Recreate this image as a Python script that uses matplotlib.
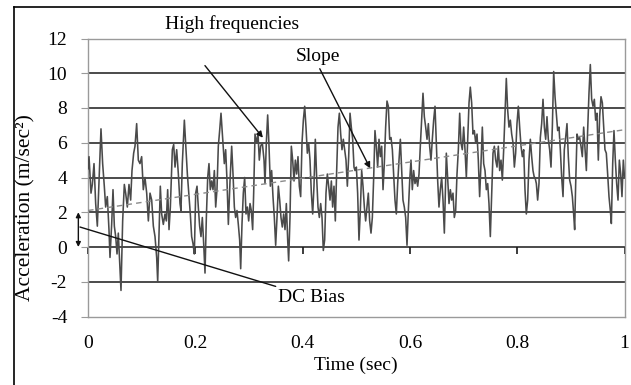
import numpy as np
import matplotlib
matplotlib.use("Agg")
import matplotlib.pyplot as plt
from matplotlib.lines import Line2D

plt.rcParams['font.family'] = ['Liberation Serif', 'DejaVu Serif']
plt.rcParams['font.size'] = 14
plt.rcParams['axes.unicode_minus'] = False

# ---- data (time in s, acceleration in m/s^2) ----
t_seg1 = [0.000, 0.0019, 0.0056, 0.0081, 0.0112, 0.0143, 0.0174, 0.0205, 0.0242, 0.0273, 0.0304, 0.0329,
          0.0360, 0.0391, 0.0410, 0.0441, 0.0466, 0.0491, 0.0516, 0.0541, 0.0565, 0.0590, 0.0615, 0.0646,
          0.0677, 0.0702, 0.0733, 0.0764, 0.0795, 0.0820, 0.0851, 0.0876, 0.0907, 0.0938, 0.0969, 0.1000,
          0.1031, 0.1062, 0.1094, 0.1125, 0.1156, 0.1187, 0.1218, 0.1249, 0.1280, 0.1299, 0.1323, 0.1348,
          0.1373, 0.1404, 0.1435, 0.1460, 0.1485, 0.1510, 0.1535, 0.1572, 0.1597]
a_seg1 = [4.5, 5.2, 3.1, 3.6, 4.8, 2.5, 1.2, 3.8, 6.8, 4.8, 3.5, 2.3,
          2.9, 1.0, -0.6, 1.3, 3.3, 1.2, 0.6, -0.4, 0.8, -0.8, -2.5, 1.5,
          3.6, 3.1, 2.3, 3.6, 2.7, 4.4, 5.4, 5.8, 7.1, 5.0, 4.8, 5.2,
          3.3, 4.0, 3.1, 1.5, 3.1, 2.7, 1.2, 0.6, -0.6, -2.0, 0.6, 3.5,
          1.9, 1.3, 1.9, 1.5, 3.3, 1.0, 2.3, 5.6, 5.9]

t_seg2 = [0.1622, 0.1653, 0.1684, 0.1715, 0.1733, 0.1758, 0.1796, 0.1827, 0.1852, 0.1883, 0.1907, 0.1932,
          0.1957, 0.1982, 0.2007, 0.2032, 0.2056, 0.2081, 0.2106, 0.2131, 0.2156, 0.2181, 0.2206, 0.2231,
          0.2255, 0.2280, 0.2305, 0.2330, 0.2355, 0.2380, 0.2404, 0.2429, 0.2454, 0.2479, 0.2510, 0.2541,
          0.2566, 0.2591, 0.2616, 0.2647, 0.2678, 0.2703, 0.2728, 0.2752, 0.2777, 0.2802, 0.2827, 0.2846,
          0.2870, 0.2895, 0.2920, 0.2945, 0.2970, 0.2995, 0.3020, 0.3044, 0.3069, 0.3088, 0.3113, 0.3144,
          0.3169, 0.3193, 0.3218, 0.3249, 0.3281]
a_seg2 = [4.6, 5.6, 4.2, 2.5, 2.1, 4.8, 7.3, 5.6, 4.2, 2.9, 1.9, 0.6,
          0.2, -0.4, 3.1, 3.5, 2.3, 1.2, 0.6, 1.7, 0.2, -1.5, 1.7, 4.0,
          4.8, 3.3, 3.8, 3.3, 4.4, 2.3, 3.3, 5.8, 6.7, 7.7, 6.2, 4.8,
          5.6, 3.8, 1.3, 3.8, 5.8, 4.2, 2.3, 1.7, 2.1, 1.3, 0.4, -1.25,
          1.3, 3.1, 4.0, 1.9, 2.3, 1.5, 2.5, 2.1, 1.0, 3.1, 6.5, 6.0,
          6.5, 5.0, 5.8, 6.0, 5.0]

t_seg3 = [0.3299, 0.3324, 0.3349, 0.3374, 0.3399, 0.3423, 0.3448, 0.3473, 0.3498, 0.3523, 0.3548, 0.3573,
          0.3597, 0.3622, 0.3647, 0.3672, 0.3697, 0.3722, 0.3740, 0.3765, 0.3790, 0.3815, 0.3840, 0.3865,
          0.3889, 0.3914, 0.3939, 0.3964, 0.3989, 0.4014, 0.4039, 0.4063, 0.4088, 0.4113, 0.4138, 0.4163,
          0.4188, 0.4212, 0.4237, 0.4262, 0.4287, 0.4312, 0.4337, 0.4362, 0.4386, 0.4411, 0.4436, 0.4461,
          0.4486, 0.4511, 0.4536, 0.4560, 0.4585, 0.4610, 0.4635, 0.4660, 0.4685, 0.4710, 0.4734, 0.4759,
          0.4784, 0.4809, 0.4834, 0.4859, 0.4884, 0.4908, 0.4933, 0.4958]
a_seg3 = [3.65, 6.0, 7.6, 5.8, 3.5, 4.4, 2.9, 1.7, 0.1, 1.7, 3.5, 2.7,
          1.7, 1.15, 1.9, 1.0, 2.5, 0.4, -0.8, 1.7, 5.8, 5.0, 3.8, 5.0,
          4.2, 5.2, 3.5, 2.9, 6.0, 7.3, 8.1, 6.9, 5.4, 6.0, 5.0, 3.1,
          1.9, 3.5, 6.2, 4.0, 2.3, 1.7, 2.5, 1.7, -0.2, 0.4, 3.1, 4.2,
          3.5, 2.7, 3.8, 2.3, 3.5, 1.5, 4.4, 6.9, 7.7, 6.5, 5.6, 6.2,
          5.6, 5.0, 3.5, 5.2, 7.7, 6.9, 6.2, 4.6]

t_seg4 = [0.4977, 0.5002, 0.5026, 0.5051, 0.5076, 0.5101, 0.5126, 0.5151, 0.5175, 0.5200, 0.5225, 0.5250,
          0.5275, 0.5300, 0.5325, 0.5349, 0.5374, 0.5399, 0.5424, 0.5449, 0.5474, 0.5499, 0.5523, 0.5548,
          0.5573, 0.5598, 0.5623, 0.5648, 0.5673, 0.5697, 0.5722, 0.5747, 0.5772, 0.5797, 0.5822, 0.5847,
          0.5871, 0.5896, 0.5921, 0.5946, 0.5971, 0.5996, 0.6020, 0.6045, 0.6070, 0.6095, 0.6120, 0.6145,
          0.6170, 0.6194, 0.6219, 0.6244, 0.6269, 0.6294, 0.6319, 0.6344, 0.6368, 0.6393, 0.6418, 0.6443,
          0.6468, 0.6493, 0.6518, 0.6542, 0.6567, 0.6592, 0.6617, 0.6642, 0.6660, 0.6679]
a_seg4 = [4.4, 4.6, 3.1, 0.4, 2.1, 4.4, 3.5, 2.3, 1.5, 2.3, 3.1, 1.5,
          0.8, 1.7, 4.0, 6.7, 5.8, 4.6, 6.2, 5.2, 5.8, 3.3, 4.8, 6.9,
          8.4, 8.1, 6.2, 6.3, 5.6, 4.2, 2.7, 1.9, 3.65, 5.0, 6.2, 4.4,
          2.7, 2.3, 1.7, 0.1, 2.1, 3.8, 5.0, 3.3, 4.4, 3.65, 4.0, 3.5,
          4.2, 5.8, 7.3, 8.85, 7.5, 6.9, 6.2, 7.1, 5.8, 5.0, 6.2, 7.3,
          8.1, 6.0, 3.8, 2.3, 3.3, 4.0, 2.7, 0.8, 3.1, 5.4]

t_seg5 = [0.6704, 0.6729, 0.6754, 0.6779, 0.6803, 0.6828, 0.6853, 0.6878, 0.6903, 0.6928, 0.6952, 0.6977,
          0.7002, 0.7027, 0.7052, 0.7077, 0.7102, 0.7126, 0.7151, 0.7176, 0.7201, 0.7226, 0.7251, 0.7275,
          0.7300, 0.7325, 0.7350, 0.7375, 0.7400, 0.7425, 0.7450, 0.7474, 0.7499, 0.7524, 0.7549, 0.7574,
          0.7599, 0.7624, 0.7648, 0.7673, 0.7698, 0.7723, 0.7748, 0.7773, 0.7797, 0.7822, 0.7847, 0.7872,
          0.7897, 0.7922, 0.7947, 0.7971, 0.7996, 0.8021, 0.8046, 0.8071, 0.8096, 0.8121, 0.8145, 0.8170,
          0.8195, 0.8220, 0.8245, 0.8270, 0.8294, 0.8319]
a_seg5 = [4.0, 2.5, 3.3, 2.7, 3.1, 1.7, 2.1, 4.2, 5.6, 7.7, 6.0, 5.6,
          6.9, 5.6, 4.0, 6.2, 8.3, 9.2, 8.3, 6.5, 6.7, 6.0, 6.5, 5.0,
          2.9, 4.8, 6.9, 4.8, 4.4, 3.3, 3.65, 2.5, 0.6, 3.1, 5.4, 5.8,
          5.0, 4.6, 5.8, 4.4, 5.0, 3.85, 5.6, 7.7, 9.7, 7.9, 6.9, 7.3,
          6.5, 6.0, 4.6, 5.4, 7.1, 8.1, 6.9, 5.8, 5.2, 5.6, 3.3, 1.9,
          2.7, 5.0, 6.2, 5.2, 4.4, 4.0]

t_seg6 = [0.8332, 0.8357, 0.8381, 0.8406, 0.8431, 0.8456, 0.8481, 0.8506, 0.8531, 0.8555, 0.8580, 0.8605,
          0.8630, 0.8655, 0.8680, 0.8705, 0.8729, 0.8754, 0.8779, 0.8804, 0.8829, 0.8854, 0.8878, 0.8903,
          0.8928, 0.8953, 0.8978, 0.9003, 0.9028, 0.9052, 0.9071, 0.9090, 0.9115, 0.9139, 0.9164, 0.9189,
          0.9214, 0.9239, 0.9264, 0.9289, 0.9313, 0.9338, 0.9363, 0.9388, 0.9413, 0.9438, 0.9462, 0.9487,
          0.9512, 0.9537, 0.9562, 0.9587, 0.9612, 0.9636, 0.9661, 0.9686, 0.9711, 0.9736, 0.9755, 0.9780,
          0.9804, 0.9829, 0.9854, 0.9879, 0.9904, 0.9929, 0.9953, 0.9978, 1.0]
a_seg6 = [4.0, 3.65, 2.7, 3.65, 6.3, 7.1, 8.5, 6.9, 6.2, 7.5, 6.2, 5.6,
          4.6, 6.9, 10.1, 8.65, 7.7, 6.7, 6.9, 5.6, 4.0, 2.9, 5.6, 6.3,
          7.1, 5.2, 3.85, 3.5, 2.9, 1.9, 1.0, 3.65, 6.5, 6.2, 6.3, 5.8,
          5.2, 6.9, 5.6, 4.4, 6.7, 8.85, 10.5, 8.5, 8.1, 8.5, 7.3, 7.7,
          5.0, 7.5, 8.65, 8.3, 6.9, 5.6, 5.4, 4.2, 2.9, 2.1, 1.35, 4.8,
          6.7, 5.0, 3.65, 2.7, 5.0, 4.2, 2.9, 5.0, 4.0]

trend_time = [0.0, 1.0]
trend_accel = [2.1, 6.75]

x_ticks = [0, 0.2, 0.4, 0.6, 0.8, 1]
x_ticklabels = ['0', '0.2', '0.4', '0.6', '0.8', '1']
y_ticks = [-4, -2, 0, 2, 4, 6, 8, 10, 12]

time_s = np.concatenate([t_seg1, t_seg2, t_seg3, t_seg4, t_seg5, t_seg6])
accel = np.concatenate([a_seg1, a_seg2, a_seg3, a_seg4, a_seg5, a_seg6])
assert len(time_s) == len(accel)

# ---- figure ----
W, H = 631, 385
fig = plt.figure(figsize=(W / 100, H / 100), dpi=100)
ax = fig.add_axes([88 / W, 1 - 316.5 / H, (624.5 - 88) / W, (316.5 - 38.5) / H])

frame_gray = '#9a9a9a'
ax.set_xlim(0, 1)
ax.set_ylim(-4, 12)
ax.set_axisbelow(True)

ax.set_yticks(y_ticks)
ax.grid(axis='y', color='#1a1a1a', lw=1.1)
glines = ax.get_ygridlines()
glines[0].set_visible(False)
glines[-1].set_visible(False)

for s in ax.spines.values():
    s.set_color(frame_gray)
    s.set_linewidth(1.0)

ax.set_xticks(x_ticks)
ax.set_xticklabels(x_ticklabels)
ax.tick_params(axis='x', length=0, pad=13)
ax.tick_params(axis='y', direction='out', length=5, color=frame_gray, pad=10)

# axis crossing at y = 0 with tick marks
sec = ax.secondary_xaxis(0.25)
sec.set_xticks(x_ticks)
sec.tick_params(direction='out', length=5, color='#1a1a1a', labelbottom=False, width=1.2)
sec.spines['bottom'].set_visible(False)

ax.plot(time_s, accel, color='#4a4a4a', lw=1.15, zorder=3)
ax.plot(trend_time, trend_accel, color='#8a8a8a', lw=1.0, dashes=(4, 3), zorder=4)

ax.set_xlabel('Time (sec)', labelpad=4)
fig.text(26 / W, 1 - 208 / H, 'Acceleration (m/sec\u00b2)', rotation=90,
         ha='center', va='center', fontsize=15.5)

arrow_kw = dict(arrowstyle='-|>', color='#111111', lw=1.0, mutation_scale=9, shrinkA=0, shrinkB=0)
ax.text(0.269, 12.85, 'High frequencies', ha='center', va='center')
ax.annotate('', xy=(0.326, 6.29), xytext=(0.218, 10.44), arrowprops=arrow_kw, annotation_clip=False)
ax.text(0.429, 10.96, 'Slope', ha='center', va='center')
ax.annotate('', xy=(0.526, 4.52), xytext=(0.432, 10.26), arrowprops=arrow_kw, annotation_clip=False)
ax.annotate('DC Bias', xy=(-0.015, 1.15), xytext=(0.355, -2.9), ha='left', va='center',
            arrowprops=dict(arrowstyle='-', color='#111111', lw=1.0, shrinkA=0, shrinkB=0),
            annotation_clip=False)
ax.annotate('', xy=(-0.018, 0), xytext=(-0.018, 2),
            arrowprops=dict(arrowstyle='<|-|>', color='#111111', lw=1.0, mutation_scale=7,
                            shrinkA=0, shrinkB=0), annotation_clip=False)

# outer frame of the original picture
fig.add_artist(Line2D([14 / W, 1], [1 - 7 / H, 1 - 7 / H], transform=fig.transFigure, color='k', lw=1.2))
fig.add_artist(Line2D([14 / W, 14 / W], [0, 1 - 7 / H], transform=fig.transFigure, color='k', lw=1.2))

fig.savefig('out.png', dpi=100)
